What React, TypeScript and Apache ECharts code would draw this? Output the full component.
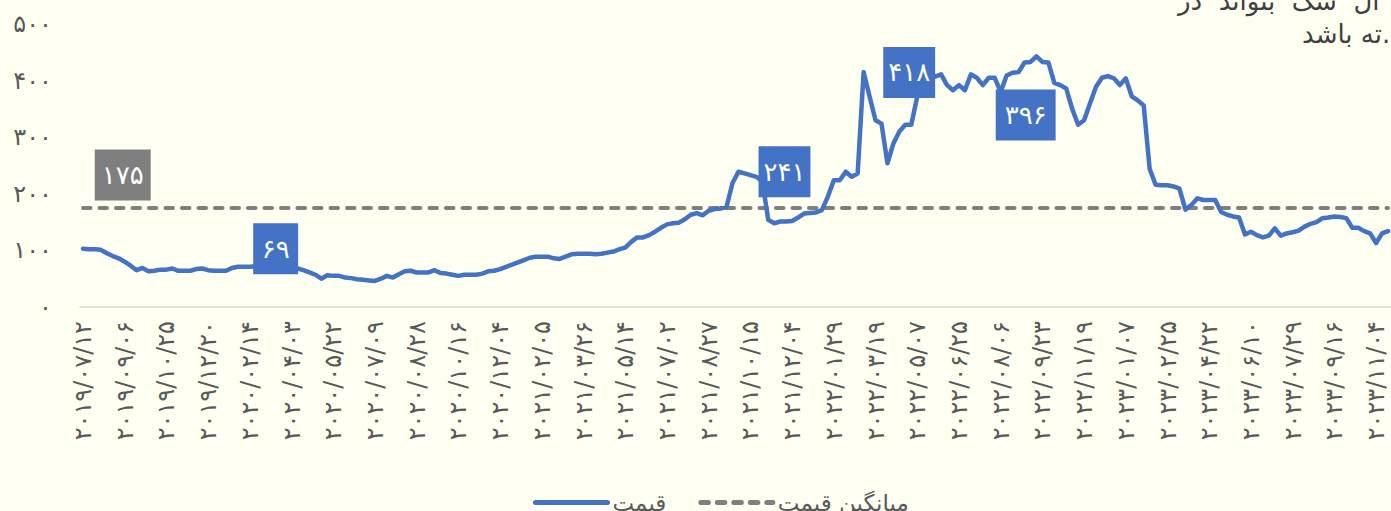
import React, { useEffect, useRef } from "react";
import * as echarts from "echarts";

const tickDates = [
  "2019/07/12", "2019/09/06", "2019/10/25", "2019/12/20", "2020/02/14", "2020/04/03",
  "2020/05/22", "2020/07/09", "2020/08/28", "2020/10/16", "2020/12/04", "2021/02/05",
  "2021/03/26", "2021/05/14", "2021/07/02", "2021/08/27", "2021/10/15", "2021/12/04",
  "2022/01/29", "2022/03/19", "2022/05/07", "2022/06/25", "2022/08/06", "2022/09/23",
  "2022/11/19", "2023/01/07", "2023/02/25", "2023/04/22", "2023/06/10", "2023/07/29",
  "2023/09/16", "2023/11/04",
];

const priceValues = [
  103, 102, 102, 101, 95, 90, 86, 80, 73, 65,
  69, 63, 64, 66, 66, 68, 64, 64, 64, 67,
  68, 65, 64, 64, 64, 69, 71, 71, 71, 72,
  72, 72, 71, 71, 70, 70, 68, 65, 61, 57,
  50, 56, 55, 55, 52, 51, 49, 48, 47, 46,
  50, 55, 52, 58, 63, 64, 61, 61, 61, 65,
  60, 59, 57, 55, 57, 57, 57, 59, 63, 64,
  67, 71, 75, 79, 83, 87, 89, 89, 89, 86,
  85, 89, 93, 94, 94, 94, 93, 94, 96, 98,
  102, 105, 115, 123, 123, 127, 133, 140, 146, 148,
  149, 155, 163, 166, 162, 170, 173, 174, 177, 219,
  239, 236, 233, 230, 222, 154, 148, 151, 151, 152,
  158, 165, 166, 167, 171, 195, 224, 224, 239, 230,
  236, 415, 372, 330, 324, 254, 289, 310, 322, 322,
  372, 418, 408, 407, 411, 392, 383, 392, 383, 411,
  405, 392, 405, 405, 380, 409, 414, 415, 432, 433,
  443, 433, 432, 396, 392, 386, 350, 322, 330, 360,
  389, 405, 408, 404, 392, 404, 372, 365, 356, 244,
  216, 215, 215, 213, 209, 172, 180, 192, 189, 189,
  189, 168, 163, 160, 158, 128, 133, 127, 123, 126,
  139, 126, 130, 132, 135, 142, 147, 150, 157, 158,
  160, 159, 157, 140, 140, 134, 130, 113, 130, 134,
];

const averagePrice = 175;
const averageLabelIndex = 6;
const annotationIndex = [32, 110, 141, 154];
const annotationText = ["69", "241", "418", "396"];
const seriesNames = ["قیمت", "میانگین قیمت"];
const noteLines = ["ال\u00a0 شک\u00a0 بتواند\u00a0 در", "ته باشد."];

const FA_DIGITS = "۰۱۲۳۴۵۶۷۸۹";
const toFa = (s: string) => s.replace(/\d/g, (d) => FA_DIGITS[Number(d)]);

const FONT = "DejaVu Sans, Noto Sans, sans-serif";
const BLUE = "#4472c4";
const GRAY = "#7f7f7f";
const annotationOffsets: number[][] = [
  [2, -18],
  [46, 0],
  [-14, 2],
  [25, 23],
];
const annotationPadX = [8.5, 5, 5, 9];

export default function App() {
  const ref = useRef<HTMLDivElement>(null);

  useEffect(() => {
    document.body.style.margin = "0";
    if (!ref.current) return;
    const chart = echarts.init(ref.current, undefined, { renderer: "svg" });

    const categories: string[] = tickDates
      .flatMap((d) => [d, "", "", "", "", "", ""])
      .slice(0, priceValues.length);

    const boxLabel = (bg: string) => ({
      show: true,
      position: "inside",
      color: "#ffffff",
      backgroundColor: bg,
      fontFamily: FONT,
      fontSize: 26,
      lineHeight: 30,
      formatter: (p: any) => toFa(String(p.value)),
    });

    const markerBase = {
      symbol: "circle",
      symbolSize: 1,
      itemStyle: { color: "rgba(0,0,0,0)" },
      emphasis: { disabled: true },
      silent: true,
    };

    chart.setOption({
      animation: false,
      backgroundColor: "#fffff2",
      textStyle: { fontFamily: FONT },
      grid: { left: 80, top: 24, width: 1318, height: 283, containLabel: false },
      legend: {
        data: seriesNames,
        left: 528,
        top: 486,
        itemWidth: 72,
        itemHeight: 14,
        itemGap: 32,
        itemStyle: { opacity: 0 },
        lineStyle: { width: 5 },
        textStyle: { color: "#595959", fontSize: 23, fontFamily: FONT },
      },
      xAxis: {
        type: "category",
        data: categories,
        boundaryGap: true,
        axisTick: { show: false },
        axisLine: { lineStyle: { color: "#d9d9d9", width: 1.5 } },
        axisLabel: {
          interval: 6,
          rotate: 90,
          margin: 14,
          color: "#595959",
          fontSize: 24,
          fontFamily: FONT,
          formatter: (v: string) => toFa(v),
        },
      },
      yAxis: {
        type: "value",
        min: 0,
        max: 500,
        interval: 100,
        splitLine: { show: false },
        axisLine: { show: false },
        axisTick: { show: false },
        axisLabel: {
          margin: 28,
          color: "#595959",
          fontSize: 24,
          fontFamily: FONT,
          formatter: (v: number) => toFa(String(v)),
        },
      },
      series: [
        {
          name: seriesNames[0],
          type: "line",
          data: priceValues,
          symbol: "none",
          showSymbol: false,
          z: 3,
          lineStyle: { color: BLUE, width: 4.5, cap: "round", join: "round" },
          itemStyle: { color: BLUE },
          emphasis: { disabled: true },
          markPoint: {
            ...markerBase,
            label: boxLabel(BLUE),
            data: annotationIndex.map((idx, k) => ({
              coord: [idx, priceValues[idx]],
              value: annotationText[k],
              label: {
                offset: annotationOffsets[k],
                padding: [11, annotationPadX[k], 10, annotationPadX[k]],
              },
            })),
          },
        },
        {
          name: seriesNames[1],
          type: "line",
          data: priceValues.map(() => averagePrice),
          symbol: "none",
          showSymbol: false,
          z: 2,
          lineStyle: { color: GRAY, width: 4, type: [7.5, 9], cap: "round" },
          itemStyle: { color: GRAY },
          emphasis: { disabled: true },
          markPoint: {
            ...markerBase,
            label: boxLabel(GRAY),
            data: [
              {
                coord: [averageLabelIndex, averagePrice],
                value: String(averagePrice),
                label: { offset: [4, -33], padding: [11, 7, 10, 7] },
              },
            ],
          },
        },
      ],
      graphic: [
        {
          type: "text",
          left: 1178,
          top: -12,
          style: { text: noteLines[0], fill: "#404040", fontSize: 26, fontFamily: FONT },
        },
        {
          type: "text",
          left: 1302,
          top: 21,
          style: { text: noteLines[1], fill: "#404040", fontSize: 26, fontFamily: FONT },
        },
      ],
    });

    return () => chart.dispose();
  }, []);

  return <div ref={ref} style={{ width: 1391, height: 511 }} />;
}
